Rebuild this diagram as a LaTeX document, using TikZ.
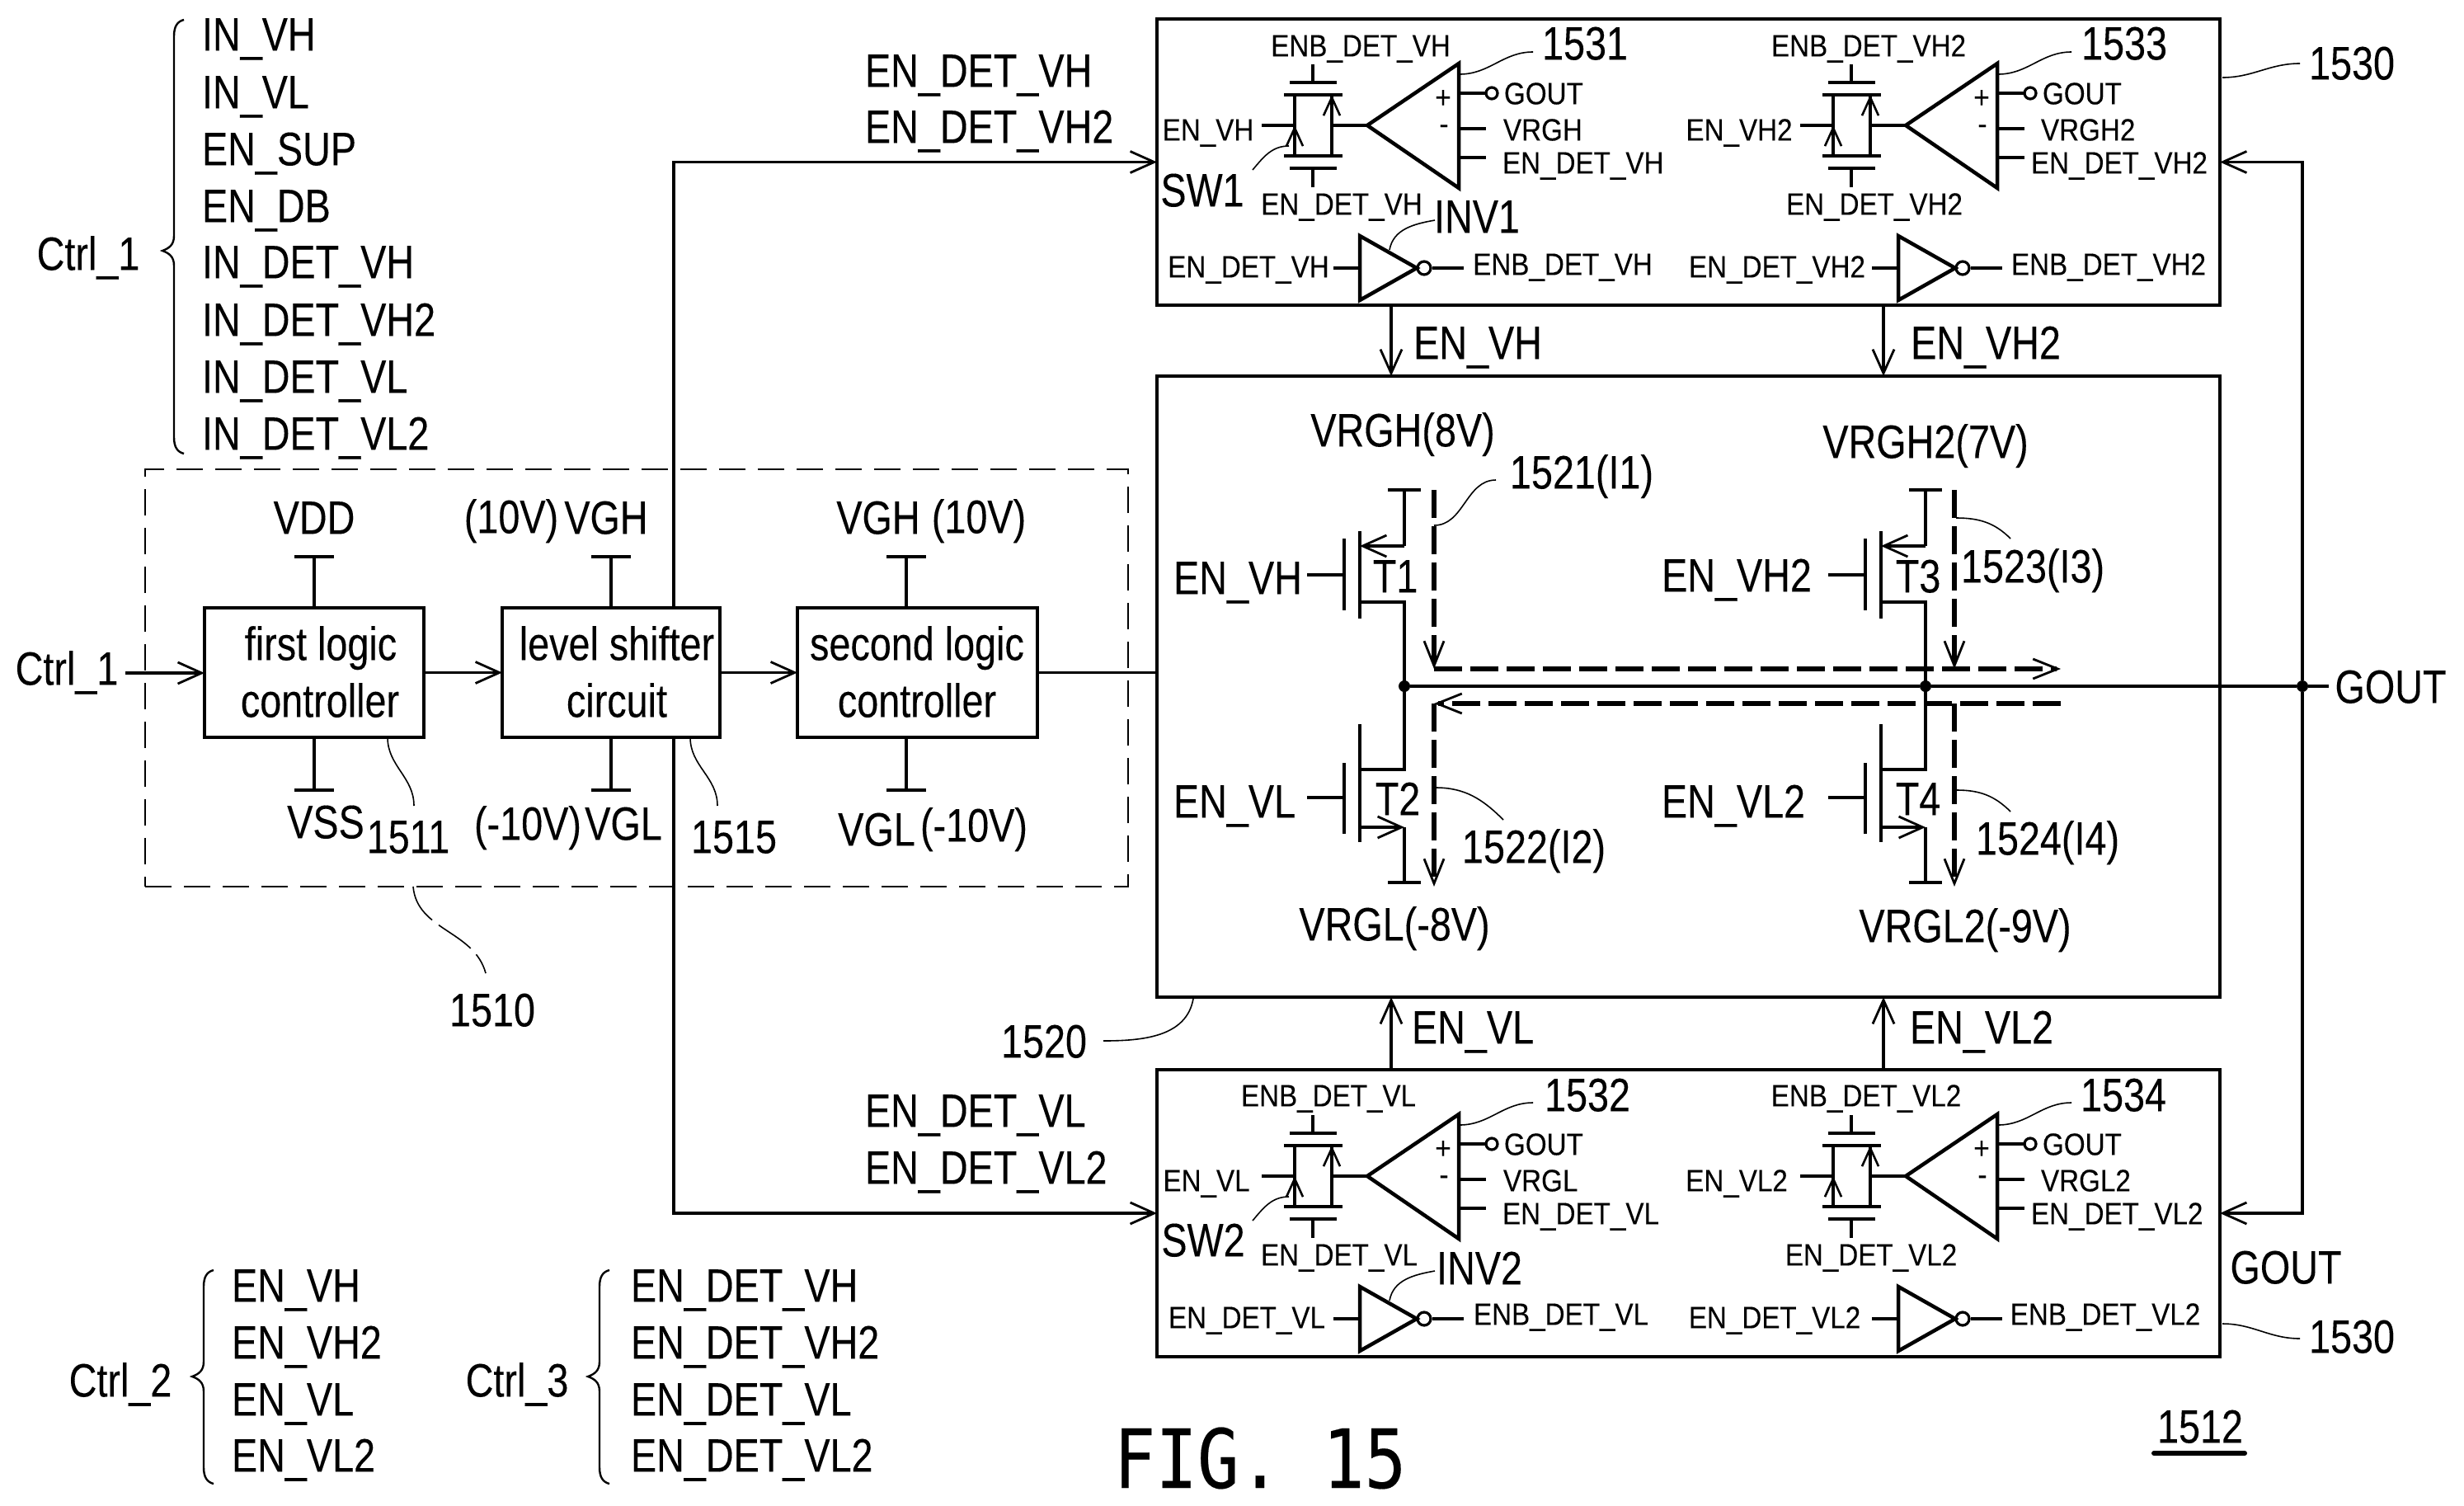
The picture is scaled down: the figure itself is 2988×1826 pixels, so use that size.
\documentclass[tikz,border=0pt]{standalone}
\usepackage{fontspec}
\setmainfont{Liberation Sans}
\newfontfamily\bigf[FakeStretch=0.82,FakeBold=0.15]{Liberation Sans}
\newfontfamily\smf[FakeStretch=0.885,FakeBold=0.15]{Liberation Sans}
\newfontfamily\figf[FakeStretch=0.85,FakeBold=0.2]{DejaVu Sans Mono}
\usetikzlibrary{arrows.meta,fit}
\tikzset{
  wire/.style={line width=1.75pt,line cap=butt},
  heavy/.style={line width=2.25pt},
  leader/.style={line width=0.8pt},
  tip/.style={-{Straight Barb[length=14.5pt,width=13pt,line width=1.4pt]}},
  smalltip/.style={-{Straight Barb[length=11pt,width=10pt,line width=1.3pt]}},
  current/.style={line width=3pt,dash pattern=on 17pt off 5pt,-{Straight Barb[length=15pt,width=12pt,line width=1.4pt]}},
  plainblock/.style={draw,line width=2pt,inner sep=0pt,outer sep=0pt},
  bigt/.style={inner sep=0pt,outer sep=0pt,text height=20.4pt,text depth=0pt,font=\bigf\fontsize{28.5}{34}\selectfont},
  smt/.style={inner sep=0pt,outer sep=0pt,text height=13.4pt,text depth=0pt,font=\smf\fontsize{18.75}{22}\selectfont},
  signt/.style={inner sep=0pt,outer sep=0pt,font=\smf\fontsize{18.75}{22}\selectfont},
  figt/.style={inner sep=0pt,outer sep=0pt,text height=36pt,text depth=0pt,font=\figf\fontsize{49.5}{55}\selectfont},
  dot/.style={circle,fill=black,inner sep=0pt,minimum size=7pt}
}
% leader line: name, from, to, out, in
\newcommand\ldr[6][leader]{\coordinate (#2a) at (#3); \coordinate (#2b) at (#4); \draw[#1] (#2a) to[out=#5,in=#6] (#2b);}
% T-bar rail: name, x, y
\newcommand\rail[3]{\coordinate (#1) at (#2,#3); \draw[wire] (#2-24,#3) -- (#2+24,#3);}
% curly brace: x of stem, top, tip, bottom
\newcommand\curly[4]{\draw[line width=1.2pt] (#1+12,#2) .. controls (#1+4,#2+2) and (#1,#2+8) .. (#1,#2+20) -- (#1,#3-18) .. controls (#1,#3-7) and (#1-6,#3-3) .. (#1-14,#3) .. controls (#1-6,#3+3) and (#1,#3+7) .. (#1,#3+18) -- (#1,#4-20) .. controls (#1,#4-8) and (#1+4,#4-2) .. (#1+12,#4);}
% switch + comparator + inverter block
\newcommand\sgroup[3]{%
\begin{scope}[shift={(#2,#3)}]
  \coordinate (#1gt) at (1592,78); \coordinate (#1gtb) at (1592,100);
  \coordinate (#1gb) at (1592,227); \coordinate (#1gbb) at (1592,204);
  \draw[wire] (#1gt) -- (#1gtb); \draw[wire] (#1gb) -- (#1gbb);
  \draw[wire] (1564,100) -- (1621,100); \draw[wire] (1564,204) -- (1621,204);
  \draw[heavy] (1557,115) -- (1628,115); \draw[heavy] (1557,189) -- (1628,189);
  \coordinate (#1in) at (1530,152); \coordinate (#1il) at (1570,152);
  \coordinate (#1ir) at (1615,152); \coordinate (#1apex) at (1658,152);
  \draw[wire] (1570,115) -- (1570,189); \draw[wire] (1615,115) -- (1615,189);
  \draw[wire] (#1in) -- (#1il); \draw[wire] (#1ir) -- (#1apex);
  \draw[smalltip] (1570,175) -- (#1il);
  \draw[smalltip] (1615,137) -- (1615,115);
  \coordinate (#1bt) at (1769,77); \coordinate (#1bb) at (1769,228);
  \draw[heavy,line join=miter] (#1apex) -- (#1bt) -- (#1bb) -- cycle;
  \node[signt] (#1plus) at (1750,120) {+};
  \node[signt] (#1minus) at (1751,157) {-};
  \coordinate (#1p1) at (1769,113); \coordinate (#1c1) at (1802,113);
  \coordinate (#1p2) at (1769,156); \coordinate (#1e2) at (1802,156);
  \coordinate (#1p3) at (1769,191); \coordinate (#1e3) at (1802,191);
  \draw[wire] (#1p1) -- (#1c1); \draw[wire] (#1p2) -- (#1e2); \draw[wire] (#1p3) -- (#1e3);
  \draw[line width=1.6pt] (1809,113) circle[radius=7];
  \coordinate (#1ia) at (1649,286); \coordinate (#1ib) at (1649,364); \coordinate (#1ic) at (1718,325);
  \draw[heavy,line join=miter] (#1ia) -- (#1ib) -- (#1ic) -- cycle;
  \draw[line width=1.6pt] (1727,325) circle[radius=8];
  \coordinate (#1iw) at (1617,325); \coordinate (#1iv) at (1649,325);
  \coordinate (#1ow) at (1737,325); \coordinate (#1ox) at (1775,325);
  \draw[wire] (#1iw) -- (#1iv); \draw[wire] (#1ow) -- (#1ox);
  \ldr{#1lead}{1770,90}{1859,63}{0}{180}
\end{scope}}
% upper transistor
\newcommand\uptr[2]{%
\begin{scope}[shift={(#2,0)}]
  \coordinate (#1s) at (1703,594); \coordinate (#1a) at (1703,662); \coordinate (#1c) at (1649,662);
  \coordinate (#1d) at (1649,730); \coordinate (#1e) at (1703,730); \coordinate (#1n) at (1703,832);
  \draw[wire] (1683,594) -- (1723,594);
  \draw[wire] (#1s) -- (#1a); \draw[wire,tip] (#1a) -- (#1c);
  \draw[wire] (1649,644) -- (1649,750); \draw[wire] (1630,653) -- (1630,740);
  \draw[wire] (1585,697) -- (1630,697);
  \draw[wire] (#1d) -- (#1e) -- (#1n);
\end{scope}}
% lower transistor
\newcommand\lotr[2]{%
\begin{scope}[shift={(#2,0)}]
  \coordinate (#1n) at (1703,832); \coordinate (#1a) at (1703,933); \coordinate (#1b) at (1649,933);
  \coordinate (#1c) at (1649,1003); \coordinate (#1d) at (1703,1003); \coordinate (#1e) at (1703,1070);
  \draw[wire] (#1n) -- (#1a) -- (#1b);
  \draw[wire] (1649,878) -- (1649,1021); \draw[wire] (1630,925) -- (1630,1011);
  \draw[wire] (1585,967) -- (1630,967);
  \draw[wire,tip] (#1c) -- (#1d); \draw[wire] (#1d) -- (#1e);
  \draw[wire] (1683,1070) -- (1723,1070);
\end{scope}}
\begin{document}
\begin{tikzpicture}[x=0.5pt,y=-0.5pt]
\useasboundingbox (0,0) rectangle (2988,1826);

% ---------- signal lists
\node[bigt] (ctrlone) at (107,307) {Ctrl\_1};
\curly{211}{24}{304}{550}
\node[bigt,anchor=west] (l1) at (245,41) {IN\_VH};
\node[bigt,anchor=west] (l2) at (245,111) {IN\_VL};
\node[bigt,anchor=west] (l3) at (245,180) {EN\_SUP};
\node[bigt,anchor=west] (l4) at (245,249) {EN\_DB};
\node[bigt,anchor=west] (l5) at (245,317) {IN\_DET\_VH};
\node[bigt,anchor=west] (l6) at (245,387) {IN\_DET\_VH2};
\node[bigt,anchor=west] (l7) at (245,456) {IN\_DET\_VL};
\node[bigt,anchor=west] (l8) at (245,525) {IN\_DET\_VL2};

\node[bigt] (ctrltwo) at (146,1673) {Ctrl\_2};
\curly{247}{1540}{1669}{1799}
\node[bigt,anchor=west] (m1) at (281,1558) {EN\_VH};
\node[bigt,anchor=west] (m2) at (281,1627) {EN\_VH2};
\node[bigt,anchor=west] (m3) at (281,1696) {EN\_VL};
\node[bigt,anchor=west] (m4) at (281,1764) {EN\_VL2};

\node[bigt] (ctrlthree) at (627,1673) {Ctrl\_3};
\curly{727}{1540}{1669}{1799}
\node[bigt,anchor=west] (n1) at (765,1558) {EN\_DET\_VH};
\node[bigt,anchor=west] (n2) at (765,1627) {EN\_DET\_VH2};
\node[bigt,anchor=west] (n3) at (765,1696) {EN\_DET\_VL};
\node[bigt,anchor=west] (n4) at (765,1764) {EN\_DET\_VL2};

% ---------- block 1510
\node[draw,line width=1pt,dash pattern=on 16pt off 7.5pt,inner sep=0pt,fit={(176,569) (1368,1075)}] (dbox) {};
\node[plainblock,fit={(248,737) (514,894)}] (fl) {};
\node[plainblock,fit={(609,737) (873,894)}] (ls) {};
\node[plainblock,fit={(967,737) (1258,894)}] (sl) {};
\node[bigt] (flta) at (389,780) {first logic};
\node[bigt] (fltb) at (388,849) {controller};
\node[bigt] (lsta) at (748,780) {level shifter};
\node[bigt] (lstb) at (748,849) {circuit};
\node[bigt] (slta) at (1112,780) {second logic};
\node[bigt] (sltb) at (1112,849) {controller};

\node[bigt] (ctrlin) at (81,810) {Ctrl\_1};
\coordinate (inA) at (152,816);
\draw[wire,tip] (inA) -- (inA -| fl.west);
\draw[wire,tip] (fl.east) -- (ls.west);
\draw[wire,tip] (ls.east) -- (sl.west);

\rail{ra}{381}{675} \rail{rb}{741}{675} \rail{rc}{1099}{675}
\rail{rd}{381}{958} \rail{re}{741}{958} \rail{rf}{1099}{958}
\draw[wire] (ra) -- (ra |- fl.north); \draw[wire] (rb) -- (rb |- ls.north); \draw[wire] (rc) -- (rc |- sl.north);
\draw[wire] (rd) -- (rd |- fl.south); \draw[wire] (re) -- (re |- ls.south); \draw[wire] (rf) -- (rf |- sl.south);

\node[bigt] (tvdd) at (381,627) {VDD};
\node[bigt] (t10a) at (620,626) {(10V)};
\node[bigt] (tvgha) at (735,627) {VGH};
\node[bigt] (tvghb) at (1065,627) {VGH};
\node[bigt] (t10b) at (1187,626) {(10V)};
\node[bigt] (tvss) at (395,996) {VSS};
\node[bigt] (t1511) at (495,1014) {1511};
\node[bigt] (tm10a) at (640,998) {(-10V)};
\node[bigt] (tvgla) at (756,998) {VGL};
\node[bigt] (t1515) at (890,1014) {1515};
\node[bigt] (tvglb) at (1063,1005) {VGL};
\node[bigt] (tm10b) at (1181,1000) {(-10V)};
\node[bigt] (t1510) at (597,1224) {1510};

\ldr{la}{470,894}{502,977}{-90}{90}
\ldr{lb}{837,894}{870,977}{-90}{90}
\ldr[leader,dash pattern=on 24pt off 5pt]{lc}{501,1075}{589,1180}{-85}{105}

% ---------- main boxes
\node[plainblock,fit={(1403,23) (2692,370)}] (tb) {};
\node[plainblock,fit={(1403,456) (2692,1209)}] (mb) {};
\node[plainblock,fit={(1403,1297) (2692,1645)}] (bb) {};

% trunk from the level shifter to the detect blocks
\coordinate (trunkT) at (817,737);
\coordinate (trunkB) at (817,894);
\draw[wire,tip] (trunkT) |- (tb.west);
\draw[wire,tip] (trunkB) |- (bb.west);
\draw[wire] (sl.east) -- (sl.east -| mb.west);

\node[bigt,anchor=west] (ed1) at (1049,85) {EN\_DET\_VH};
\node[bigt,anchor=west] (ed2) at (1049,153) {EN\_DET\_VH2};
\node[bigt,anchor=west] (ed3) at (1049,1346) {EN\_DET\_VL};
\node[bigt,anchor=west] (ed4) at (1049,1415) {EN\_DET\_VL2};

% arrows between boxes
\coordinate (xa) at (1687,0); \coordinate (xb) at (2284,0);
\draw[wire,tip] (xa |- tb.south) -- (xa |- mb.north);
\draw[wire,tip] (xb |- tb.south) -- (xb |- mb.north);
\draw[wire,tip] (xa |- bb.north) -- (xa |- mb.south);
\draw[wire,tip] (xb |- bb.north) -- (xb |- mb.south);
\node[bigt] (ea1) at (1792,415) {EN\_VH};
\node[bigt] (ea2) at (2408,415) {EN\_VH2};
\node[bigt] (ea3) at (1786,1245) {EN\_VL};
\node[bigt] (ea4) at (2403,1245) {EN\_VL2};

% ---------- detect groups
\sgroup{ga}{0}{0}
\sgroup{gb}{653}{0}
\sgroup{gc}{0}{1274}
\sgroup{gd}{653}{1274}

\node[smt] (a1) at (1650,55) {ENB\_DET\_VH};
\node[smt] (a2) at (1627,247) {EN\_DET\_VH};
\node[smt] (a3) at (1465,157) {EN\_VH};
\node[smt,anchor=west] (a4) at (1824,113) {GOUT};
\node[smt,anchor=west] (a5) at (1823,157) {VRGH};
\node[smt,anchor=west] (a6) at (1822,197) {EN\_DET\_VH};
\node[smt] (a7) at (1514,323) {EN\_DET\_VH};
\node[smt] (a8) at (1895,320) {ENB\_DET\_VH};
\node[bigt] (a9) at (1922,52) {1531};
\node[bigt] (a10) at (1458,230) {SW1};
\node[bigt] (a11) at (1791,262) {INV1};
\ldr{lsa}{1563,177}{1519,206}{180}{50}
\ldr{lia}{1685,303}{1740,267}{80}{190}

\node[smt] (b1) at (2266,55) {ENB\_DET\_VH2};
\node[smt] (b2) at (2273,247) {EN\_DET\_VH2};
\node[smt] (b3) at (2109,157) {EN\_VH2};
\node[smt,anchor=west] (b4) at (2477,113) {GOUT};
\node[smt,anchor=west] (b5) at (2475,157) {VRGH2};
\node[smt,anchor=west] (b6) at (2463,197) {EN\_DET\_VH2};
\node[smt] (b7) at (2155,323) {EN\_DET\_VH2};
\node[smt] (b8) at (2557,320) {ENB\_DET\_VH2};
\node[bigt] (b9) at (2576,52) {1533};

\node[smt] (c1) at (1611,1328) {ENB\_DET\_VL};
\node[smt] (c2) at (1624,1521) {EN\_DET\_VL};
\node[smt] (c3) at (1463,1431) {EN\_VL};
\node[smt,anchor=west] (c4) at (1824,1387) {GOUT};
\node[smt,anchor=west] (c5) at (1823,1431) {VRGL};
\node[smt,anchor=west] (c6) at (1822,1471) {EN\_DET\_VL};
\node[smt] (c7) at (1512,1597) {EN\_DET\_VL};
\node[smt] (c8) at (1893,1593) {ENB\_DET\_VL};
\node[bigt] (c9) at (1925,1327) {1532};
\node[bigt] (c10) at (1459,1503) {SW2};
\node[bigt] (c11) at (1794,1537) {INV2};
\ldr{lsc}{1563,1451}{1519,1480}{180}{50}
\ldr{lic}{1685,1577}{1740,1541}{80}{190}

\node[smt] (d1) at (2263,1328) {ENB\_DET\_VL2};
\node[smt] (d2) at (2269,1521) {EN\_DET\_VL2};
\node[smt] (d3) at (2106,1431) {EN\_VL2};
\node[smt,anchor=west] (d4) at (2477,1387) {GOUT};
\node[smt,anchor=west] (d5) at (2475,1431) {VRGL2};
\node[smt,anchor=west] (d6) at (2463,1471) {EN\_DET\_VL2};
\node[smt] (d7) at (2152,1597) {EN\_DET\_VL2};
\node[smt] (d8) at (2553,1593) {ENB\_DET\_VL2};
\node[bigt] (d9) at (2575,1327) {1534};

% ---------- output stage
\uptr{ta}{0} \lotr{tb2}{0} \uptr{tc}{632} \lotr{td}{632}

\node[dot] (junA) at (1703,832) {};
\node[dot] (junB) at (2335,832) {};
\node[dot] (junC) at (2792,832) {};
\coordinate (goutE) at (2824,832);
\draw[wire] (junA) -- (junB) -- (junC) -- (goutE);
\draw[wire,tip] (junC) |- (tb.east);
\draw[wire,tip] (junC) |- (bb.east);

\node[bigt] (gl1) at (2899,832) {GOUT};
\node[bigt] (gl2) at (2772,1536) {GOUT};
\node[bigt] (t1) at (1692,698) {T1};
\node[bigt] (t2) at (1695,968) {T2};
\node[bigt] (t3) at (2326,698) {T3};
\node[bigt] (t4) at (2326,968) {T4};
\node[bigt] (e1) at (1501,700) {EN\_VH};
\node[bigt] (e2) at (1497,971) {EN\_VL};
\node[bigt] (e3) at (2106,697) {EN\_VH2};
\node[bigt] (e4) at (2102,971) {EN\_VL2};
\node[bigt] (v1) at (1701,521) {VRGH(8V)};
\node[bigt] (v2) at (2335,535) {VRGH2(7V)};
\node[bigt] (v3) at (1691,1120) {VRGL(-8V)};
\node[bigt] (v4) at (2383,1122) {VRGL2(-9V)};
\node[bigt] (i1) at (1918,572) {1521(I1)};
\node[bigt] (i2) at (1860,1026) {1522(I2)};
\node[bigt] (i3) at (2465,686) {1523(I3)};
\node[bigt] (i4) at (2483,1016) {1524(I4)};

% current paths
\coordinate (ca) at (1739,594); \coordinate (cb) at (1739,811); \coordinate (cc) at (2499,811);
\coordinate (cd) at (2499,853); \coordinate (ce) at (1739,853); \coordinate (cf) at (1739,1075);
\coordinate (cg) at (2370,594); \coordinate (ch) at (2370,811);
\coordinate (ci) at (2370,853); \coordinate (cj) at (2370,1075);
\draw[current] (ca) -- (cb);
\draw[current] (cb) -- (cc);
\draw[current] (cd) -- (ce);
\draw[current] (ce) -- (cf);
\draw[current] (cg) -- (ch);
\draw[current] (ci) -- (cj);

\ldr{l21}{1739,637}{1814,582}{0}{180}
\ldr{l22}{1741,955}{1823,994}{0}{135}
\ldr{l23}{2372,628}{2438,653}{0}{135}
\ldr{l24}{2373,958}{2438,984}{0}{135}

% ---------- reference numerals
\node[bigt] (r1) at (2852,76) {1530};
\ldr{lr1}{2695,94}{2789,77}{0}{180}
\node[bigt] (r2) at (2852,1620) {1530};
\ldr{lr2}{2695,1605}{2789,1623}{0}{180}
\node[bigt] (r3) at (1266,1262) {1520};
\ldr{lr3}{1338,1262}{1447,1211}{0}{-100}

\node[figt] (fig) at (1528,1768) {FIG. 15};
\node[bigt] (r4) at (2668,1729) {1512};
\coordinate (ula) at (2612,1762); \coordinate (ulb) at (2722,1762);
\draw[line width=3pt,line cap=round] (ula) -- (ulb);
\end{tikzpicture}
\end{document}
